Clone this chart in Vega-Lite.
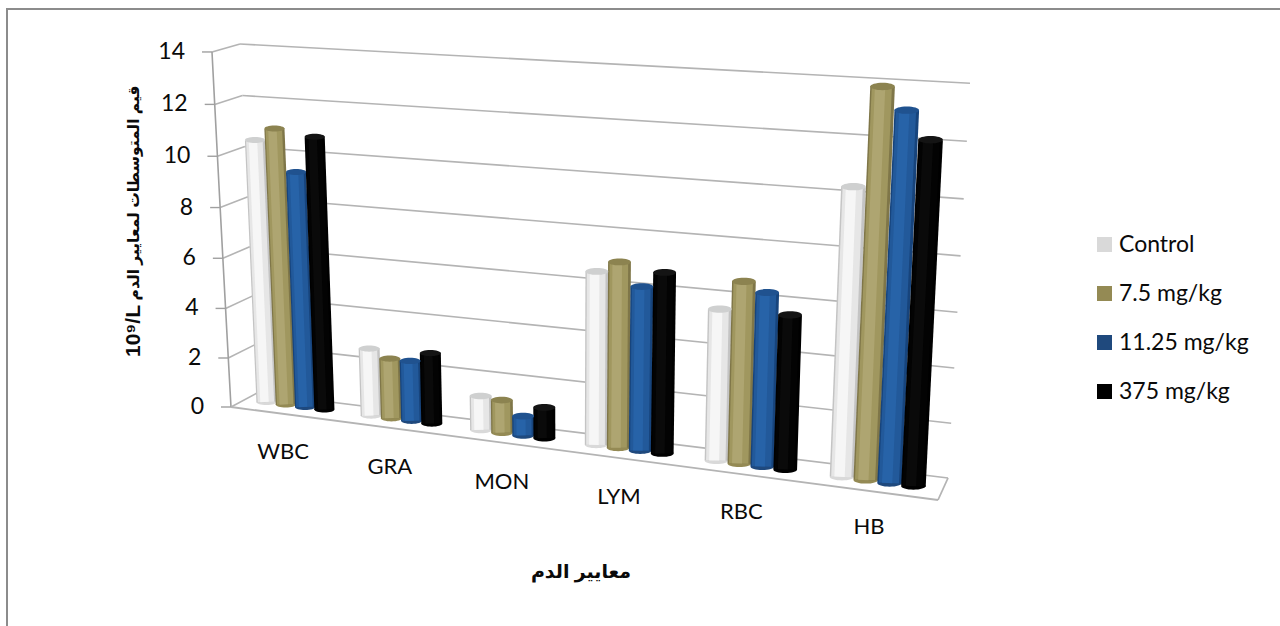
{
  "$schema": "https://vega.github.io/schema/vega-lite/v6.json",
  "width": 1280,
  "height": 626,
  "padding": 0,
  "autosize": {"type": "none"},
  "background": "white",
  "config": {
    "view": {"stroke": null},
    "axis": {"disable": true},
    "text": {"font": "Lato"}
  },
  "datasets": {
    "blood": [
      {"param": "WBC", "group": "Control", "value": 10.6},
      {"param": "WBC", "group": "7.5 mg/kg", "value": 11.1},
      {"param": "WBC", "group": "11.25 mg/kg", "value": 9.5},
      {"param": "WBC", "group": "375 mg/kg", "value": 10.9},
      {"param": "GRA", "group": "Control", "value": 2.9},
      {"param": "GRA", "group": "7.5 mg/kg", "value": 2.6},
      {"param": "GRA", "group": "11.25 mg/kg", "value": 2.6},
      {"param": "GRA", "group": "375 mg/kg", "value": 3.0},
      {"param": "MON", "group": "Control", "value": 1.56},
      {"param": "MON", "group": "7.5 mg/kg", "value": 1.5},
      {"param": "MON", "group": "11.25 mg/kg", "value": 0.98},
      {"param": "MON", "group": "375 mg/kg", "value": 1.42},
      {"param": "LYM", "group": "Control", "value": 6.77},
      {"param": "LYM", "group": "7.5 mg/kg", "value": 7.2},
      {"param": "LYM", "group": "11.25 mg/kg", "value": 6.37},
      {"param": "LYM", "group": "375 mg/kg", "value": 6.97},
      {"param": "RBC", "group": "Control", "value": 5.83},
      {"param": "RBC", "group": "7.5 mg/kg", "value": 6.92},
      {"param": "RBC", "group": "11.25 mg/kg", "value": 6.6},
      {"param": "RBC", "group": "375 mg/kg", "value": 5.88},
      {"param": "HB", "group": "Control", "value": 10.6},
      {"param": "HB", "group": "7.5 mg/kg", "value": 14.1},
      {"param": "HB", "group": "11.25 mg/kg", "value": 13.35},
      {"param": "HB", "group": "375 mg/kg", "value": 12.4}
    ],
    "levels": [
      {"level": 0}, {"level": 2}, {"level": 4}, {"level": 6},
      {"level": 8}, {"level": 10}, {"level": 12}, {"level": 14}
    ],
    "params": [
      {"param": "WBC"}, {"param": "GRA"}, {"param": "MON"},
      {"param": "LYM"}, {"param": "RBC"}, {"param": "HB"}
    ],
    "titles": [
      {"title": "قيم المتوسطات لمعايير الدم", "part": "yArabic"},
      {"title": "10⁹/L", "part": "yUnit"},
      {"title": "معايير الدم", "part": "x"}
    ]
  },
  "layer": [
    {
      "mark": {"type": "rule", "color": "#8c8c8c", "strokeWidth": 2},
      "data": {"values": [{"from": 8, "to": 626}]},
      "encoding": {
        "x": {"datum": 7, "type": "quantitative", "scale": {"domain": [0, 1280], "nice": false, "zero": false}},
        "y": {"field": "from", "type": "quantitative", "scale": {"domain": [626, 0], "nice": false, "zero": false}},
        "y2": {"field": "to"}
      }
    },
    {
      "mark": {"type": "rule", "color": "#8c8c8c", "strokeWidth": 2},
      "data": {"values": [{"from": 6, "to": 1280}]},
      "encoding": {
        "x": {"field": "from", "type": "quantitative", "scale": {"domain": [0, 1280], "nice": false, "zero": false}},
        "x2": {"field": "to"},
        "y": {"datum": 9, "type": "quantitative", "scale": {"domain": [626, 0], "nice": false, "zero": false}}
      }
    },
    {
      "data": {"name": "levels"},
      "transform": [
        {"calculate": "231 - datum.level * 19 / 14", "as": "fx"},
        {"calculate": "407 - datum.level * (24.36 + 0.0714 * datum.level)", "as": "fy"},
        {"calculate": "257 - datum.level * 17 / 14", "as": "bx"},
        {"calculate": "393 - datum.level * (23.93 + 0.0714 * datum.level)", "as": "by"},
        {"calculate": "948 + datum.level * 22 / 14", "as": "rx"},
        {"calculate": "478 - datum.level * (27.2 + 0.0714 * datum.level)", "as": "ry"},
        {"calculate": "datum.fx - 10", "as": "tx"},
        {"calculate": "datum.fx - 27", "as": "lx"}
      ],
      "layer": [
        {
          "mark": {"type": "rule", "color": "#b4b4b4", "strokeWidth": 1.6},
          "encoding": {
            "x": {"field": "bx", "type": "quantitative", "scale": {"domain": [0, 1280], "nice": false, "zero": false}},
            "x2": {"field": "rx"},
            "y": {"field": "by", "type": "quantitative", "scale": {"domain": [626, 0], "nice": false, "zero": false}},
            "y2": {"field": "ry"}
          }
        },
        {
          "mark": {"type": "rule", "color": "#b4b4b4", "strokeWidth": 1.6},
          "encoding": {
            "x": {"field": "fx", "type": "quantitative", "scale": {"domain": [0, 1280], "nice": false, "zero": false}},
            "x2": {"field": "bx"},
            "y": {"field": "fy", "type": "quantitative", "scale": {"domain": [626, 0], "nice": false, "zero": false}},
            "y2": {"field": "by"}
          }
        },
        {
          "mark": {"type": "rule", "color": "#a0a0a0", "strokeWidth": 1.4},
          "encoding": {
            "x": {"field": "tx", "type": "quantitative", "scale": {"domain": [0, 1280], "nice": false, "zero": false}},
            "x2": {"field": "fx"},
            "y": {"field": "fy", "type": "quantitative", "scale": {"domain": [626, 0], "nice": false, "zero": false}}
          }
        },
        {
          "mark": {"type": "line", "color": "#a0a0a0", "strokeWidth": 1.6},
          "encoding": {
            "x": {"field": "fx", "type": "quantitative", "scale": {"domain": [0, 1280], "nice": false, "zero": false}},
            "y": {"field": "fy", "type": "quantitative", "scale": {"domain": [626, 0], "nice": false, "zero": false}},
            "order": {"field": "level"}
          }
        },
        {
          "transform": [
            {"filter": "datum.level == 0"},
            {"calculate": "938", "as": "cx"},
            {"calculate": "500", "as": "cy"}
          ],
          "layer": [
            {
              "mark": {"type": "rule", "color": "#b4b4b4", "strokeWidth": 1.8},
              "encoding": {
                "x": {"field": "fx", "type": "quantitative", "scale": {"domain": [0, 1280], "nice": false, "zero": false}},
                "x2": {"field": "cx"},
                "y": {"field": "fy", "type": "quantitative", "scale": {"domain": [626, 0], "nice": false, "zero": false}},
                "y2": {"field": "cy"}
              }
            },
            {
              "mark": {"type": "rule", "color": "#b4b4b4", "strokeWidth": 1.8},
              "encoding": {
                "x": {"field": "cx", "type": "quantitative", "scale": {"domain": [0, 1280], "nice": false, "zero": false}},
                "x2": {"field": "rx"},
                "y": {"field": "cy", "type": "quantitative", "scale": {"domain": [626, 0], "nice": false, "zero": false}},
                "y2": {"field": "ry"}
              }
            }
          ]
        },
        {
          "mark": {"type": "text", "align": "right", "baseline": "middle", "fontSize": 23, "color": "#0a0a0a"},
          "encoding": {
            "x": {"field": "lx", "type": "quantitative", "scale": {"domain": [0, 1280], "nice": false, "zero": false}},
            "y": {"field": "fy", "type": "quantitative", "scale": {"domain": [626, 0], "nice": false, "zero": false}},
            "text": {"field": "level", "type": "nominal"}
          }
        }
      ]
    },
    {
      "data": {"name": "params"},
      "transform": [
        {"calculate": "indexof(['WBC','GRA','MON','LYM','RBC','HB'], datum.param)", "as": "c"},
        {"calculate": "283 + 104.2 * datum.c + 2.6 * datum.c * datum.c", "as": "px"},
        {"calculate": "452 + 15 * datum.c", "as": "py"}
      ],
      "mark": {"type": "text", "align": "center", "baseline": "middle", "fontSize": 22, "color": "#0a0a0a"},
      "encoding": {
        "x": {"field": "px", "type": "quantitative", "scale": {"domain": [0, 1280], "nice": false, "zero": false}},
        "y": {"field": "py", "type": "quantitative", "scale": {"domain": [626, 0], "nice": false, "zero": false}},
        "text": {"field": "param", "type": "nominal"}
      }
    },
    {
      "data": {"name": "titles"},
      "transform": [
        {"calculate": "datum.part == 'x' ? 581 : 134", "as": "tx"},
        {"calculate": "datum.part == 'x' ? 572 : datum.part == 'yUnit' ? 331 : 193", "as": "ty"},
        {"calculate": "datum.part == 'x' ? 0 : -90", "as": "ta"},
        {"calculate": "datum.part == 'x' ? 19 : datum.part == 'yUnit' ? 21 : 15.5", "as": "ts"}
      ],
      "mark": {"type": "text", "align": "center", "baseline": "middle", "fontWeight": "bold", "font": "Liberation Sans, DejaVu Sans", "color": "#0a0a0a"},
      "encoding": {
        "x": {"field": "tx", "type": "quantitative", "scale": {"domain": [0, 1280], "nice": false, "zero": false}},
        "y": {"field": "ty", "type": "quantitative", "scale": {"domain": [626, 0], "nice": false, "zero": false}},
        "text": {"field": "title", "type": "nominal"},
        "angle": {"field": "ta", "type": "quantitative", "scale": null},
        "size": {"field": "ts", "type": "quantitative", "scale": null}
      }
    },
    {
      "data": {"name": "blood"},
      "transform": [
        {"calculate": "indexof(['WBC','GRA','MON','LYM','RBC','HB'], datum.param)", "as": "c"},
        {"calculate": "indexof(['Control','7.5 mg/kg','11.25 mg/kg','375 mg/kg'], datum.group)", "as": "g"},
        {"calculate": "19.3 + 0.9 * datum.c", "as": "s"},
        {"calculate": "datum.s + 0.8", "as": "w"},
        {"calculate": "266.5 + 102.1 * datum.c + 2.6 * datum.c * datum.c + datum.g * datum.s", "as": "xb"},
        {"calculate": "405 + (datum.xb - 266.5) * 0.13", "as": "base"},
        {"calculate": "datum.value * (24.36 + 0.0714 * datum.value) * (1 + 0.13 * (datum.xb - 231) / 707)", "as": "h"},
        {"calculate": "datum.xb + (datum.xb - 570) * 0.000142 * datum.h", "as": "xt"},
        {"calculate": "datum.base - 3", "as": "yb"},
        {"calculate": "datum.base - datum.h + 3", "as": "yt"},
        {"calculate": "datum.xb - 0.03 * datum.w", "as": "xb1"},
        {"calculate": "datum.xt - 0.03 * datum.w", "as": "xt1"},
        {"calculate": "datum.xb - 0.1 * datum.w", "as": "xb2"},
        {"calculate": "datum.xt - 0.1 * datum.w", "as": "xt2"},
        {"calculate": "datum.w * 0.82", "as": "w1"},
        {"calculate": "datum.w * 0.42", "as": "w2"},
        {"calculate": "datum.w * datum.w", "as": "capArea"}
      ],
      "layer": [
        {
          "mark": {"type": "point", "filled": true, "opacity": 1, "shape": "M-1,0A1,0.3 0 1 1 1,0A1,0.3 0 1 1 -1,0Z"},
          "encoding": {
            "x": {"field": "xb", "type": "quantitative", "scale": {"domain": [0, 1280], "nice": false, "zero": false}},
            "y": {"field": "yb", "type": "quantitative", "scale": {"domain": [626, 0], "nice": false, "zero": false}},
            "size": {"field": "capArea", "type": "quantitative", "scale": null},
            "color": {
              "field": "group", "type": "nominal",
              "scale": {"domain": ["Control", "7.5 mg/kg", "11.25 mg/kg", "375 mg/kg"], "range": ["#d9d9d9", "#948a54", "#1f497d", "#000000"]},
              "legend": {
                "title": null, "orient": "none", "legendX": 1093, "legendY": 233,
                "symbolType": "square", "symbolSize": 225, "symbolStrokeWidth": 0,
                "labelFont": "Lato", "labelFontSize": 23, "labelColor": "#0a0a0a",
                "labelOffset": 3, "rowPadding": 25
              }
            }
          }
        },
        {
          "mark": {"type": "rule"},
          "encoding": {
            "x": {"field": "xb", "type": "quantitative", "scale": {"domain": [0, 1280], "nice": false, "zero": false}},
            "x2": {"field": "xt"},
            "y": {"field": "yb", "type": "quantitative", "scale": {"domain": [626, 0], "nice": false, "zero": false}},
            "y2": {"field": "yt"},
            "size": {"field": "w", "type": "quantitative", "scale": null},
            "color": {
              "field": "group", "type": "nominal", "legend": null,
              "scale": {"domain": ["Control", "7.5 mg/kg", "11.25 mg/kg", "375 mg/kg"], "range": ["#c4c4c4", "#7f7648", "#17447c", "#000000"]}
            }
          }
        },
        {
          "mark": {"type": "rule"},
          "encoding": {
            "x": {"field": "xb1", "type": "quantitative", "scale": {"domain": [0, 1280], "nice": false, "zero": false}},
            "x2": {"field": "xt1"},
            "y": {"field": "yb", "type": "quantitative", "scale": {"domain": [626, 0], "nice": false, "zero": false}},
            "y2": {"field": "yt"},
            "size": {"field": "w1", "type": "quantitative", "scale": null},
            "color": {
              "field": "group", "type": "nominal", "legend": null,
              "scale": {"domain": ["Control", "7.5 mg/kg", "11.25 mg/kg", "375 mg/kg"], "range": ["#e6e6e6", "#a0975f", "#22599a", "#030303"]}
            }
          }
        },
        {
          "mark": {"type": "rule"},
          "encoding": {
            "x": {"field": "xb2", "type": "quantitative", "scale": {"domain": [0, 1280], "nice": false, "zero": false}},
            "x2": {"field": "xt2"},
            "y": {"field": "yb", "type": "quantitative", "scale": {"domain": [626, 0], "nice": false, "zero": false}},
            "y2": {"field": "yt"},
            "size": {"field": "w2", "type": "quantitative", "scale": null},
            "color": {
              "field": "group", "type": "nominal", "legend": null,
              "scale": {"domain": ["Control", "7.5 mg/kg", "11.25 mg/kg", "375 mg/kg"], "range": ["#f6f6f6", "#aea571", "#2763a8", "#0a0a0a"]}
            }
          }
        },
        {
          "mark": {"type": "point", "filled": true, "opacity": 1, "shape": "M-1,0A1,0.3 0 1 1 1,0A1,0.3 0 1 1 -1,0Z"},
          "encoding": {
            "x": {"field": "xt", "type": "quantitative", "scale": {"domain": [0, 1280], "nice": false, "zero": false}},
            "y": {"field": "yt", "type": "quantitative", "scale": {"domain": [626, 0], "nice": false, "zero": false}},
            "size": {"field": "capArea", "type": "quantitative", "scale": null},
            "color": {
              "field": "group", "type": "nominal", "legend": null,
              "scale": {"domain": ["Control", "7.5 mg/kg", "11.25 mg/kg", "375 mg/kg"], "range": ["#cfd0d0", "#8c8350", "#20528f", "#141414"]}
            }
          }
        }
      ],
      "resolve": {"scale": {"color": "independent"}}
    }
  ],
  "resolve": {"scale": {"color": "independent"}}
}
